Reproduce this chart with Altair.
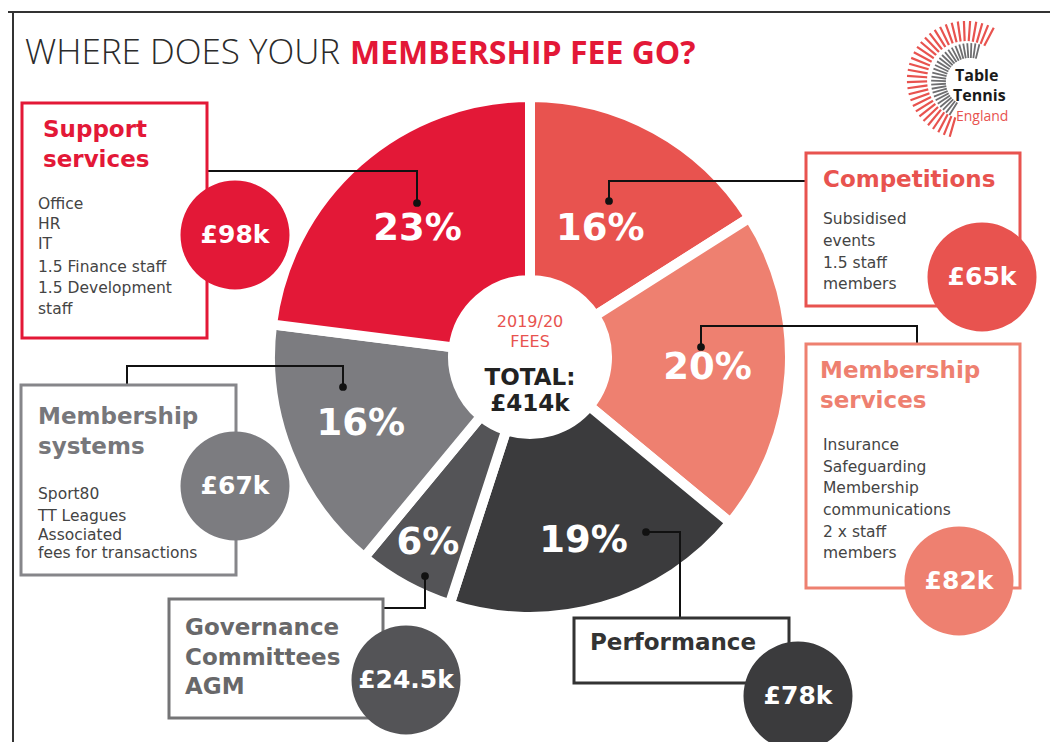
import math
import altair as alt
import pandas as pd

# ------------------------------------------------------------------ data
categories = ["Competitions", "Membership services", "Performance",
              "Governance", "Membership systems", "Support services"]
percents = [16, 20, 19, 6, 16, 23]
amounts = ["£65k", "£82k", "£78k", "£24.5k", "£67k", "£98k"]
pct_labels = ["16%", "20%", "19%", "6%", "16%", "23%"]
slice_colors = ["#E8534F", "#EE8070", "#3B3B3D", "#545457", "#7C7C80", "#E31837"]

title_light = "WHERE DOES YOUR"
title_bold = "MEMBERSHIP FEE GO?"
centre_small = ["2019/20", "FEES"]
centre_big = ["TOTAL:", "£414k"]

box_titles = {
    "Support services": ["Support", "services"],
    "Competitions": ["Competitions"],
    "Membership services": ["Membership", "services"],
    "Membership systems": ["Membership", "systems"],
    "Governance": ["Governance", "Committees", "AGM"],
    "Performance": ["Performance"],
}
box_items = {
    "Support services": ["Office", "HR", "IT", "1.5 Finance staff", "1.5 Development", "staff"],
    "Competitions": ["Subsidised", "events", "1.5 staff", "members"],
    "Membership services": ["Insurance", "Safeguarding", "Membership", "communications",
                            "2 x staff", "members"],
    "Membership systems": ["Sport80", "TT Leagues", "Associated", "fees for transactions"],
    "Governance": [],
    "Performance": [],
}
logo_words = ["Table", "Tennis"]
logo_sub = "England"

# ------------------------------------------------------------------ layout (pixel positions)
PIE_CX, PIE_CY = 530, 357
label_radius = [146, 178, 192, 212, 182, 170]   # distance of each % label from the pie centre
layout = {
    "Support services": dict(box=(22, 103, 207, 338), title=(43, [137, 167]), sep=(38, 150, 183),
                             body=(38, [209, 229, 249, 272, 293, 314]), bubble=(235, 235),
                             conn=[(208, 171, 417, 171), (417, 171, 417, 203)], dot=(417, 203),
                             tcol="#E31837", bcol="#E31837", scol="#F2A09A"),
    "Competitions": dict(box=(806, 153, 1020, 306), title=(823, [187]), sep=(822, 1002, 194),
                         body=(823, [224, 246, 268, 289]), bubble=(982, 277),
                         conn=[(609, 181, 806, 181), (609, 181, 609, 201)], dot=(609, 201),
                         tcol="#E8534F", bcol="#E8534F", scol="#F5B0A8"),
    "Membership services": dict(box=(806, 344, 1020, 588), title=(820, [378, 408]), sep=(822, 983, 423),
                                body=(823, [450, 472, 493, 515, 537, 558]), bubble=(959, 581),
                                conn=[(701, 326, 917, 326), (917, 326, 917, 344), (701, 326, 701, 347)],
                                dot=(701, 347), tcol="#EE8070", bcol="#EE8070", scol="#F5B7AE"),
    "Membership systems": dict(box=(21, 385, 236, 575), title=(38, [424, 454]), sep=(37, 173, 469),
                               body=(38, [499, 521, 540, 558]), bubble=(235, 486),
                               conn=[(127, 366, 343, 366), (127, 366, 127, 385), (343, 366, 343, 387)],
                               dot=(343, 387), tcol="#77777B", bcol="#86868A", scol="#D0D0D0"),
    "Governance": dict(box=(169, 599, 383, 718), title=(185, [635, 665, 694]), sep=(185, 342, 703),
                       body=(185, []), bubble=(406, 680),
                       conn=[(425, 576, 425, 608), (383, 608, 425, 608)], dot=(425, 576),
                       tcol="#68686A", bcol="#747476", scol="#CFCFCF"),
    "Performance": dict(box=(574, 618, 789, 683), title=(590, [650]), sep=(590, 753, 658),
                        body=(590, []), bubble=(798, 696),
                        conn=[(646, 532, 680, 532), (680, 532, 680, 618)], dot=(646, 532),
                        tcol="#333333", bcol="#333333", scol="#BDBDBD"),
}
BUBBLE_D = 109

HEAD_FONT = "DejaVu Sans"
BODY_FONT = "DejaVu Sans"

X = dict(scale=alt.Scale(domain=[8, 1050], nice=False, zero=False), axis=None)
Y = dict(scale=alt.Scale(domain=[8, 742], nice=False, zero=False, reverse=True), axis=None)

# ------------------------------------------------------------------ tables
pie_df = pd.DataFrame({"cat": categories, "pct": percents, "ord": list(range(len(categories))),
                       "lab": pct_labels, "lr": label_radius})

rules = []
boxes = []
bubbles = []
dots = []
titles = []
bodies = []
for i, cat in enumerate(categories):
    L = layout[cat]
    x1, y1, x2, y2 = L["box"]
    boxes.append(dict(x=x1, y=y1, x2=x2, y2=y2, c=L["bcol"]))
    for (a, b, c, d) in L["conn"]:
        rules.append(dict(x=a, y=b, x2=c, y2=d, c="#111111", w=2))
    sx1, sx2, sy = L["sep"]
    rules.append(dict(x=sx1, y=sy, x2=sx2, y2=sy, c=L["scol"], w=1.5))
    dots.append(dict(x=L["dot"][0], y=L["dot"][1]))
    bubbles.append(dict(x=L["bubble"][0], y=L["bubble"][1], c=slice_colors[i], t=amounts[i]))
    tx, tys = L["title"]
    for line, ty in zip(box_titles[cat], tys):
        titles.append(dict(x=tx, y=ty, t=line, c=L["tcol"]))
    bx, bys = L["body"]
    for line, by in zip(box_items[cat], bys):
        bodies.append(dict(x=bx, y=by, t=line))

# frame
rules.append(dict(x=13, y=12, x2=13, y2=742, c="#333333", w=2))
rules.append(dict(x=8, y=12, x2=1050, y2=12, c="#333333", w=2))

# logo sunburst ticks (decoration)
LCX, LCY = 966, 80
for k in range(0, 33):
    ang = math.radians(196 + 6 * k)
    r1, r2 = 40, 58
    rules.append(dict(x=LCX + r1 * math.sin(ang), y=LCY - r1 * math.cos(ang),
                      x2=LCX + r2 * math.sin(ang), y2=LCY - r2 * math.cos(ang), c="#E8534F", w=2.2))
for k in range(0, 28):
    ang = math.radians(212 + 6 * k)
    r1, r2 = 25, 38
    rules.append(dict(x=LCX + 4 + r1 * math.sin(ang), y=LCY + 2 - r1 * math.cos(ang),
                      x2=LCX + 4 + r2 * math.sin(ang), y2=LCY + 2 - r2 * math.cos(ang), c="#6E6E70", w=1.8))

rules_df = pd.DataFrame(rules)
boxes_df = pd.DataFrame(boxes)
bubbles_df = pd.DataFrame(bubbles)
dots_df = pd.DataFrame(dots)
titles_df = pd.DataFrame(titles)
bodies_df = pd.DataFrame(bodies)


def pos(chart):
    return chart.encode(x=alt.X("x:Q", **X), y=alt.Y("y:Q", **Y))


# ------------------------------------------------------------------ layers
theta = alt.Theta("pct:Q", stack=True)
order = alt.Order("ord:Q")

pie = alt.Chart(pie_df).mark_arc(outerRadius=260, innerRadius=77, stroke="white",
                                 strokeWidth=10).encode(
    theta=theta, order=order,
    color=alt.Color("cat:N", scale=alt.Scale(domain=categories, range=slice_colors), legend=None),
    x=alt.value(PIE_CX - 8), y=alt.value(PIE_CY - 8))

# percentage labels: mid-angle of each slice from the cumulative share
pie_text = pos(alt.Chart(pie_df).transform_window(
    cum="sum(pct)", sort=[alt.SortField("ord")], frame=[None, 0]
).transform_calculate(
    ang="(datum.cum - datum.pct / 2) / 100 * 2 * PI",
    x=f"{PIE_CX} + datum.lr * sin(datum.ang)",
    y=f"{PIE_CY} - datum.lr * cos(datum.ang)",
).mark_text(font=HEAD_FONT, fontSize=37, fontWeight="bold", color="white",
            align="center", baseline="middle")).encode(text="lab:N")

rule_layer = pos(alt.Chart(rules_df).mark_rule(strokeCap="square")).encode(
    x2="x2:Q", y2="y2:Q", color=alt.Color("c:N", scale=None), strokeWidth=alt.StrokeWidth("w:Q", scale=None))

box_layer = pos(alt.Chart(boxes_df).mark_rect(fill="white", strokeWidth=3)).encode(
    x2="x2:Q", y2="y2:Q", stroke=alt.Stroke("c:N", scale=None))

dot_layer = pos(alt.Chart(dots_df).mark_circle(size=60, color="#111111", opacity=1))

bubble_layer = pos(alt.Chart(bubbles_df).mark_circle(size=BUBBLE_D ** 2, opacity=1)).encode(
    color=alt.Color("c:N", scale=None))
bubble_text = pos(alt.Chart(bubbles_df).mark_text(font=HEAD_FONT, fontSize=25, fontWeight="bold",
                                                  color="white", align="center", baseline="middle")).encode(
    text="t:N")

title_layer = pos(alt.Chart(titles_df).mark_text(font=HEAD_FONT, fontSize=23, fontWeight="bold",
                                                 align="left", baseline="alphabetic")).encode(
    text="t:N", color=alt.Color("c:N", scale=None))
body_layer = pos(alt.Chart(bodies_df).mark_text(font=BODY_FONT, fontSize=15.5, color="#444444",
                                                align="left", baseline="alphabetic")).encode(text="t:N")

head1 = pos(alt.Chart(pd.DataFrame({"x": [25], "y": [64], "t": [title_light]})).mark_text(
    font="Open Sans", fontSize=35, fontWeight=300, color="#2b2b2b", align="left",
    baseline="alphabetic")).encode(text="t:N")
head2 = pos(alt.Chart(pd.DataFrame({"x": [350], "y": [64], "t": [title_bold]})).mark_text(
    font="Open Sans", fontSize=32, fontWeight="bold", color="#E31837", align="left",
    baseline="alphabetic")).encode(text="t:N")

centre1 = pos(alt.Chart(pd.DataFrame({"x": [PIE_CX, PIE_CX], "y": [327, 347], "t": centre_small})).mark_text(
    font=BODY_FONT, fontSize=16, color="#E8534F", align="center", baseline="alphabetic")).encode(text="t:N")
centre2 = pos(alt.Chart(pd.DataFrame({"x": [PIE_CX, PIE_CX], "y": [385, 411], "t": centre_big})).mark_text(
    font=HEAD_FONT, fontSize=23, fontWeight="bold", color="#222222", align="center",
    baseline="alphabetic")).encode(text="t:N")

logo1 = pos(alt.Chart(pd.DataFrame({"x": [955, 953], "y": [81, 101], "t": logo_words})).mark_text(
    font="Open Sans", fontSize=16, fontWeight="bold", color="#1a1a1a", align="left",
    baseline="alphabetic")).encode(text="t:N")
logo2 = pos(alt.Chart(pd.DataFrame({"x": [956], "y": [121], "t": [logo_sub]})).mark_text(
    font="Open Sans", fontSize=14, color="#E8534F", align="left", baseline="alphabetic")).encode(text="t:N")

chart = alt.layer(
    pie, rule_layer, dot_layer, pie_text, box_layer, title_layer, body_layer,
    bubble_layer, bubble_text, head1, head2, centre1, centre2, logo1, logo2
).properties(
    width=1042, height=734, padding=0,
    autosize=alt.AutoSizeParams(type="none"),
    background="white",
).configure_view(stroke=None)

chart.save("out.html", embed_options={"renderer": "svg", "actions": False})
